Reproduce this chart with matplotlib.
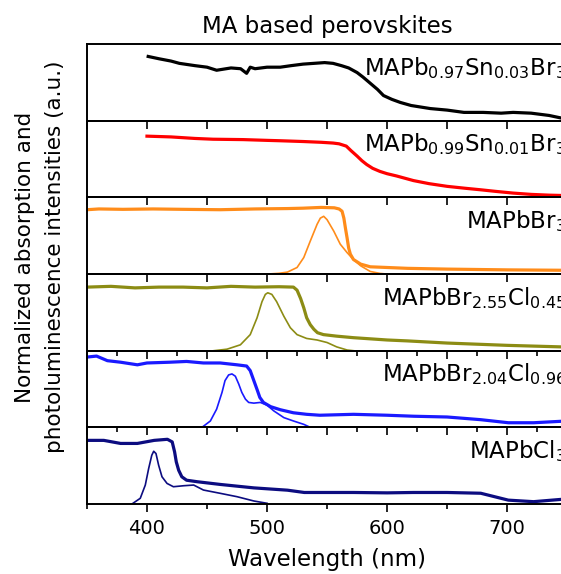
import numpy as np
import matplotlib
matplotlib.use('Agg')
from matplotlib import pyplot as plt
from matplotlib.ticker import MultipleLocator, NullLocator

# Normalized absorption / PL spectra
# (wavelength in nm, intensity as fraction of panel height)

# MAPb0.97Sn0.03Br3 - absorption
wl_1 = [401, 410, 420, 427, 440, 450, 458, 470, 478, 483, 486, 490, 500, 511, 520,
        530, 539, 548, 555, 562, 568, 575, 580, 586, 592, 597, 604, 611, 620, 636,
        650, 664, 680, 695, 705, 720, 735, 744]
ab_1 = [0.84, 0.81, 0.78, 0.75, 0.72, 0.70, 0.66, 0.69, 0.68, 0.62, 0.70, 0.68, 0.70,
        0.70, 0.72, 0.74, 0.75, 0.76, 0.75, 0.72, 0.69, 0.63, 0.57, 0.49, 0.41, 0.33,
        0.28, 0.24, 0.20, 0.16, 0.14, 0.11, 0.11, 0.10, 0.11, 0.10, 0.07, 0.04]

# MAPb0.99Sn0.01Br3 - absorption
wl_2 = [400, 420, 440, 455, 480, 500, 511, 530, 545, 555, 560, 566, 570, 575, 579,
        583, 588, 594, 600, 608, 615, 622, 635, 650, 665, 678, 690, 705, 720, 735, 745]
ab_2 = [0.80, 0.79, 0.77, 0.76, 0.755, 0.745, 0.74, 0.73, 0.72, 0.71, 0.70, 0.67,
        0.61, 0.54, 0.48, 0.43, 0.38, 0.34, 0.31, 0.28, 0.25, 0.22, 0.18, 0.145, 0.12,
        0.10, 0.08, 0.057, 0.04, 0.03, 0.026]

# MAPbBr3
wl_3 = [350, 360, 380, 405, 430, 461, 490, 517, 530, 545, 556, 560, 562.5, 564,
        565.3, 566.7, 568, 569.4, 572, 578, 586, 600, 617, 650, 700, 745]
ab_3 = [0.84, 0.85, 0.845, 0.85, 0.845, 0.84, 0.85, 0.855, 0.86, 0.87, 0.865, 0.85,
        0.82, 0.73, 0.60, 0.47, 0.34, 0.26, 0.19, 0.13, 0.095, 0.086, 0.075, 0.065,
        0.055, 0.05]
pl_wl_3 = [500, 510, 517, 525, 530.6, 536, 541.7, 544.4, 547.2, 550, 555.6, 561,
           566.7, 572, 578, 586, 594, 600]
pl_3 = [0.0, 0.01, 0.026, 0.086, 0.216, 0.43, 0.65, 0.73, 0.754, 0.71, 0.56, 0.39,
        0.28, 0.19, 0.108, 0.034, 0.009, 0.0]

# MAPbBr2.55Cl0.45
wl_4 = [350, 370, 390, 410, 430, 450, 470, 490, 510, 522, 525, 528, 530.6, 533, 536,
        539, 542, 547, 558, 572, 600, 617, 650, 700, 745]
ab_4 = [0.83, 0.84, 0.82, 0.83, 0.83, 0.82, 0.84, 0.83, 0.835, 0.83, 0.79, 0.68,
        0.56, 0.43, 0.34, 0.28, 0.235, 0.21, 0.19, 0.17, 0.14, 0.128, 0.10, 0.07, 0.05]
pl_wl_4 = [455.6, 466.7, 477.8, 486, 491.7, 495.8, 498.6, 500.6, 504, 508, 514,
           519.4, 525, 533, 541.7, 550, 558, 566.7, 572]
pl_4 = [0, 0.02, 0.077, 0.21, 0.43, 0.64, 0.735, 0.756, 0.735, 0.64, 0.45, 0.30,
        0.21, 0.16, 0.14, 0.107, 0.05, 0.009, 0]

# MAPbBr2.04Cl0.96
wl_5 = [350, 358, 367, 378, 392, 400, 419, 433, 447, 461, 475, 483, 486, 489, 492,
        494, 497, 503, 511, 522, 533, 544, 572, 600, 622, 650, 678, 701, 722, 745]
ab_5 = [0.917, 0.93, 0.87, 0.85, 0.816, 0.84, 0.85, 0.86, 0.84, 0.84, 0.816, 0.80,
        0.74, 0.61, 0.48, 0.39, 0.325, 0.27, 0.23, 0.19, 0.17, 0.158, 0.17, 0.158,
        0.145, 0.135, 0.10, 0.06, 0.06, 0.079]
pl_wl_5 = [445.8, 452.8, 458, 462.5, 465, 468, 470.8, 473.6, 476.4, 479, 482, 484.7,
           489, 494.4, 500, 505.6, 514, 522, 530.6, 536]
pl_5 = [0, 0.083, 0.237, 0.456, 0.61, 0.684, 0.697, 0.667, 0.566, 0.456, 0.368,
        0.325, 0.316, 0.325, 0.29, 0.215, 0.127, 0.083, 0.039, 0]

# MAPbCl3
wl_6 = [350, 364, 378, 392, 406, 417, 421, 423, 424.4, 426.4, 429, 433, 442, 461,
        489, 517, 531, 544, 572, 600, 622, 650, 678, 701, 722, 745]
ab_6 = [0.83, 0.83, 0.79, 0.79, 0.83, 0.844, 0.81, 0.68, 0.55, 0.44, 0.355, 0.31,
        0.29, 0.255, 0.21, 0.18, 0.15, 0.15, 0.15, 0.145, 0.15, 0.15, 0.14, 0.05,
        0.03, 0.06]
pl_wl_6 = [387.5, 394.4, 398.6, 401.4, 404, 405.6, 407.5, 409.7, 412.5, 416.7, 422,
           430.6, 438.9, 447, 461, 475, 489, 500]
pl_6 = [0, 0.074, 0.247, 0.463, 0.636, 0.688, 0.658, 0.506, 0.355, 0.268, 0.225,
        0.238, 0.247, 0.182, 0.139, 0.095, 0.039, 0.009]

labels = [r'MAPb$_{0.97}$Sn$_{0.03}$Br$_3$',
          r'MAPb$_{0.99}$Sn$_{0.01}$Br$_3$',
          r'MAPbBr$_3$',
          r'MAPbBr$_{2.55}$Cl$_{0.45}$',
          r'MAPbBr$_{2.04}$Cl$_{0.96}$',
          r'MAPbCl$_3$']
colores = ['black', '#ff0000', '#ff8c1a', '#8c8c14', '#1a1aff', '#0c0c80']

absorcion = [(wl_1, ab_1), (wl_2, ab_2), (wl_3, ab_3),
             (wl_4, ab_4), (wl_5, ab_5), (wl_6, ab_6)]
pl = [None, None, (pl_wl_3, pl_3), (pl_wl_4, pl_4),
      (pl_wl_5, pl_5), (pl_wl_6, pl_6)]

fig, axs = plt.subplots(6, 1, figsize=(5.61, 5.74), dpi=100,
                        gridspec_kw={'hspace': 0})
fig.subplots_adjust(left=0.155, right=1.011, bottom=0.122, top=0.923)

for i, ax in enumerate(axs):
    ax.set_facecolor('none')
    x, y = absorcion[i]
    ax.plot(x, y, color=colores[i], lw=2.3)
    if pl[i] is not None:
        ax.plot(pl[i][0], pl[i][1], color=colores[i], lw=1.2)
    ax.set_xlim(350, 750)
    ax.set_ylim(0, 1)
    ax.yaxis.set_major_locator(NullLocator())
    for s in ax.spines.values():
        s.set_linewidth(1.4)
    ax.text(0.998, 0.6, labels[i], transform=ax.transAxes, ha='right',
            va='baseline', fontsize=16.5)
    if i < 5:
        ax.xaxis.set_major_locator(MultipleLocator(50))
        if i >= 3:
            ax.xaxis.set_minor_locator(MultipleLocator(25))
        else:
            ax.xaxis.set_minor_locator(NullLocator())
        ax.tick_params(axis='x', which='major', direction='out', length=6,
                       width=1.2, labelbottom=False)
        ax.tick_params(axis='x', which='minor', direction='out', length=3.5,
                       width=1.2)

axs[-1].xaxis.set_major_locator(MultipleLocator(100))
axs[-1].xaxis.set_minor_locator(MultipleLocator(50))
axs[-1].tick_params(axis='x', which='major', direction='out', length=6,
                    width=1.2, labelsize=14, pad=5)
axs[-1].tick_params(axis='x', which='minor', direction='out', length=3.5,
                    width=1.2)
axs[-1].set_xlabel('Wavelength (nm)', fontsize=16.5, labelpad=7)
axs[0].set_title('MA based perovskites', fontsize=16.5, pad=8)

fig.text(0.071, 0.552, 'Normalized absorption and\nphotoluminescence intensities (a.u.)',
         rotation=90, ha='center', va='center', multialignment='center',
         fontsize=15.5, linespacing=1.6)

plt.savefig('out.png', dpi=100)
